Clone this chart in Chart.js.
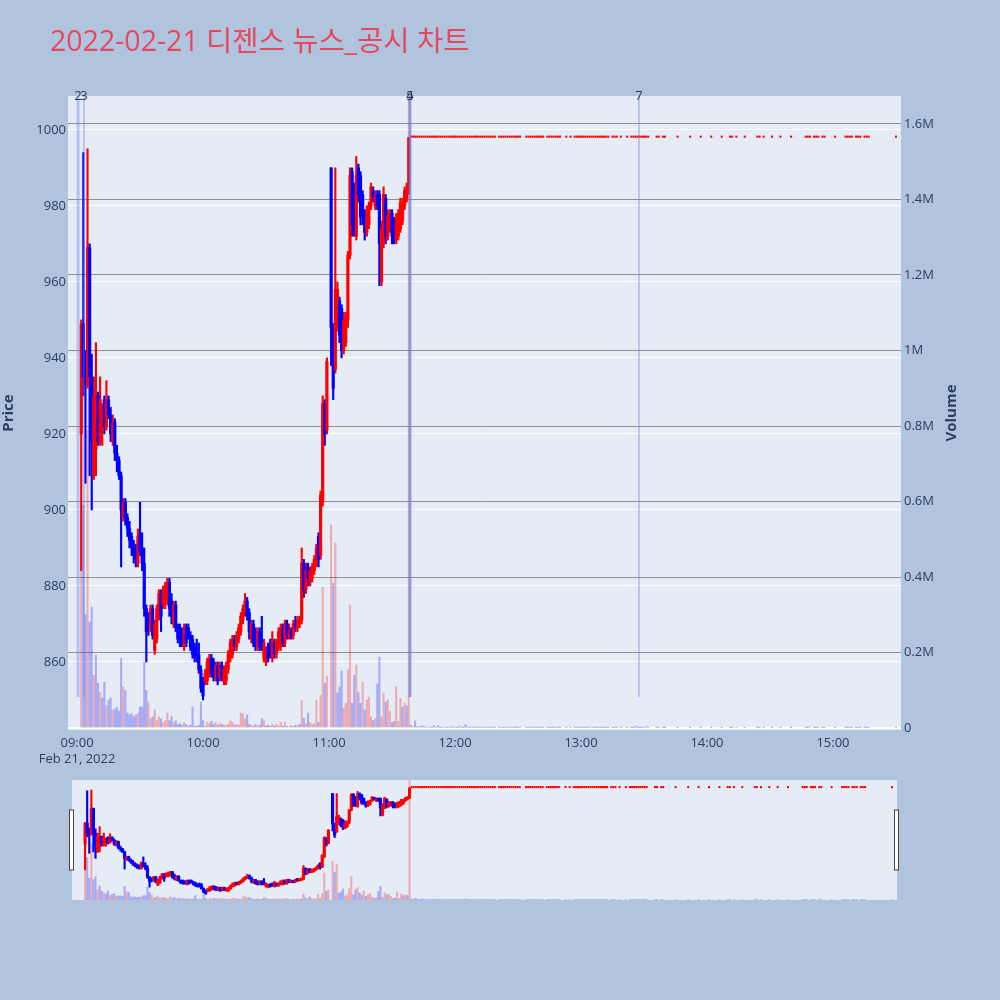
<!DOCTYPE html>
<html><head><meta charset="utf-8">
<script src="https://cdn.jsdelivr.net/npm/chart.js@4.4.0/dist/chart.umd.min.js"></script>
<style>
html,body{margin:0;padding:0;background:#b0c4de;width:1000px;height:1000px;overflow:hidden;}
#title{position:absolute;left:50px;top:20px;font-size:28.5px;line-height:40px;font-family:"Open Sans","Noto Sans CJK KR",sans-serif;color:#e8475f;white-space:nowrap;z-index:2;}
#main{position:absolute;left:0;top:0;width:1000px;height:770px;}
#slider{position:absolute;left:0;top:770px;width:1000px;height:140px;}
</style></head><body>
<div id="title">2022-02-21 디젠스 뉴스_공시 차트</div>
<canvas id="main" width="1000" height="770"></canvas>
<canvas id="slider" width="1000" height="140"></canvas>
<script>
// ---- DATA (minutes after 09:00) ----
const minutes = [2,3,4,5,6,7,8,9,10,11,
12,13,14,15,16,17,18,19,20,21,
22,23,24,25,26,27,28,29,30,31,
32,33,34,35,36,37,38,39,40,41,
42,43,44,45,46,47,48,49,50,51,
52,53,54,55,56,57,58,59,60,61,
62,63,64,65,66,67,68,69,70,71,
72,73,74,75,76,77,78,79,80,81,
82,83,84,85,86,87,88,89,90,91,
92,93,94,95,96,97,98,99,100,101,
102,103,104,105,106,107,108,109,110,111,
112,113,114,115,116,117,118,119,121,122,
123,124,125,126,127,128,129,130,131,132,
133,134,135,136,137,138,139,140,141,142,
143,144,145,146,147,148,149,150,151,152,
153,154,155,156,157,158];
const opens = [920,949,935,933,969,935,909,916,930,918,
921,929,922,929,925,918,923,915,913,909,
898,902,898,895,893,890,890,886,893,890,
886,874,872,869,874,863,866,872,878,875,
876,877,881,876,870,875,869,869,868,864,
869,869,867,866,864,862,862,858,855,855,
855,857,861,860,856,859,856,859,855,855,
858,861,862,866,864,866,868,871,873,876,
873,866,870,868,864,868,866,861,860,864,
864,861,865,862,864,864,869,865,870,867,
868,867,870,869,870,871,886,879,885,881,
882,884,886,893,888,902,928,921,990,948,
937,948,955,953,942,944,950,967,989,985,
972,990,988,983,978,973,975,980,984,980,
983,983,960,970,982,972,974,978,976,971,
972,974,976,980,982,984];
const highs = [950,994,942,995,970,941,935,944,931,935,
928,930,934,930,927,925,924,917,914,910,
903,903,899,897,894,892,891,895,902,894,
890,875,873,875,875,871,875,879,879,880,
881,882,882,878,876,876,870,870,869,870,
870,870,868,867,865,866,865,859,856,858,
861,862,862,861,860,860,860,860,859,860,
863,866,867,867,868,870,873,875,878,877,
874,871,871,869,869,869,872,866,864,865,
866,868,866,866,869,870,870,871,871,870,
869,871,872,872,872,890,887,886,886,885,
886,888,891,894,905,930,929,940,990,949,
990,960,956,954,952,952,968,990,990,986,
993,991,989,984,979,980,981,986,985,984,
984,984,976,985,983,979,979,979,977,978,
979,982,982,985,986,998];
const lows = [884,930,907,932,909,900,908,909,917,917,
917,920,921,924,918,917,913,910,908,885,
897,896,893,890,888,886,885,885,888,884,
872,860,867,868,866,862,865,871,868,874,
874,875,872,870,869,868,865,864,864,863,
864,866,863,861,860,860,857,852,850,854,
854,856,856,855,855,854,855,855,854,854,
857,860,861,863,863,865,867,870,872,871,
866,865,864,863,863,863,863,860,859,860,
861,860,861,861,863,863,864,864,866,866,
866,866,868,868,869,870,877,878,880,880,
881,883,885,885,887,901,917,920,938,929,
936,947,944,940,941,943,948,966,972,972,
971,981,975,975,971,972,974,979,981,979,
979,959,959,969,970,971,973,970,970,970,
971,973,975,979,981,983];
const closes = [949,935,933,969,935,918,930,930,918,929,
927,922,929,925,920,923,915,913,909,900,
902,898,895,892,890,888,887,893,889,886,
874,868,869,874,867,870,874,878,872,879,
880,881,874,872,875,869,866,866,865,869,
865,867,864,862,861,861,858,853,851,857,
860,861,857,856,859,855,859,856,858,859,
862,865,866,864,867,869,872,874,876,872,
868,870,865,864,868,864,864,865,862,861,
862,866,862,865,868,869,865,870,867,868,
867,870,869,871,871,886,879,884,882,884,
885,887,890,887,904,928,920,939,948,932,
958,958,946,942,950,951,967,988,975,974,
988,983,977,978,973,979,980,985,982,983,
980,970,974,983,972,977,978,972,971,977,
978,981,980,984,984,998];
const volumes = [560000,590000,300000,790000,281000,320000,140000,193000,119000,95000,
80000,122000,60000,74000,80000,48000,50000,55000,45000,185000,
109000,100000,40000,35000,38000,30000,35000,40000,56000,56000,
175000,100000,69000,25000,30000,48000,20000,30000,25000,15000,
20000,40000,20000,30000,15000,20000,10000,12000,8000,15000,
10000,5000,8000,56000,5000,5000,8000,69000,20000,5000,
15000,12000,18000,10000,15000,8000,12000,10000,8000,6000,
10000,20000,15000,8000,10000,8000,40000,38000,25000,35000,
10000,8000,5000,10000,6000,8000,25000,20000,6000,8000,
5000,10000,6000,10000,5000,15000,5000,16000,5000,3000,
6000,4000,8000,6000,10000,74000,26000,12000,40000,15000,
10000,12000,74000,15000,87000,373000,119000,138000,538000,384000,
490000,93000,109000,151000,53000,66000,154000,326000,66000,140000,
167000,95000,66000,122000,48000,74000,82000,30000,20000,25000,
117000,188000,30000,93000,69000,75000,45000,15000,18000,109000,
18000,79000,56000,66000,60000,2900000];

// after 11:38 the stock stayed at the upper limit price
const limitPrice = 998;
const limitMinutes = [159,160,161,162,163,164,165,166,167,168,
169,170,171,172,173,174,175,176,177,178,
179,180,181,182,183,184,185,186,187,188,
189,190,191,192,193,194,195,196,197,198,199,
201,202,203,204,205,206,207,208,209,210,211,
214,215,216,217,218,219,220,221,222,
224,225,226,227,228,229,230,
233,235,
237,238,239,240,241,242,243,244,245,246,247,248,249,250,251,252,253,
255,256,257,259,262,
264,265,266,267,268,269,270,271,272,
276,277,279,280,286,
292,297,302,307,311,312,314,318,
324,325,327,331,335,340,
347,348,349,351,352,353,355,356,
361,366,367,368,369,371,372,373,375,376,377,
390];
const limitVolumes = [8000,3000,19000,4000,2000,6000,5000,2000,3000,2000,
1000,7000,2000,6000,1000,2000,3000,1000,2000,1000,
4000,2000,1000,5000,2000,1000,9000,2000,1000,3000,
1000,2000,1000,1000,2000,1000,3000,1000,1000,2000,1000,
1000,2000,1000,1000,3000,1000,2000,1000,1000,1000,2000,
1000,1000,2000,1000,1000,1000,1000,2000,1000,
1000,1000,1000,1000,2000,1000,1000,
1000,1000,
1000,1000,2000,1000,1000,1000,1000,1000,3000,1000,1000,1000,2000,1000,1000,1000,1000,
1000,1000,1000,1000,1000,
1000,1000,5000,1000,1000,1000,2000,4000,1000,
1000,1000,1000,1000,1000,
1000,1000,1000,1000,1000,1000,1000,1000,
1000,1000,1000,1000,1000,1000,
1000,1000,3000,1000,1000,1000,1000,1000,
1000,1000,1000,1000,1000,1000,1000,1000,1000,1000,1000,
1000];

const timeTicks = [0,60,120,180,240,300,360];
const timeLabels = ['09:00','10:00','11:00','12:00','13:00','14:00','15:00'];
const dateLabel = 'Feb 21, 2022';
const priceTicks = [860,880,900,920,940,960,980,1000];
const volumeTicks = [0,200000,400000,600000,800000,1000000,1200000,1400000,1600000];
const volumeTickLabels = ['0','0.2M','0.4M','0.6M','0.8M','1M','1.2M','1.4M','1.6M'];

// disclosure markers (minutes after 09:00) and their labels
const markerMinutes = [0.5,3.3,158.6,158.6,267.6];
const markerLabels = ['2','3','4','5','7'];

// ---- STYLE ----
const FONT = '"Open Sans","Noto Sans CJK KR",sans-serif';
const TICK = '#2a3f5f';
const PLOT_BG = '#e5ecf6';
const RED = '#ff0000', BLUE = '#0000ff';
const VOL_RED = 'rgba(255,0,0,0.28)', VOL_BLUE = 'rgba(0,0,255,0.28)';
const X_MIN = -4.3, X_MAX = 392.4;
const P_MIN = 842.1, P_MAX = 1008.9;
const V_MIN = -5000, V_MAX = 1674000;

// ---- combine series ----
const allMin = minutes.concat(limitMinutes);
const allC = closes.concat(limitMinutes.map(() => limitPrice));
const allV = volumes.concat(limitVolumes);

const candleColors = minutes.map((m, i) => closes[i] < opens[i] ? BLUE : RED);
const volColors = allMin.map((m, i) => {
  const ref = i === 0 ? opens[0] : allC[i - 1];
  return allC[i] > ref ? VOL_RED : VOL_BLUE;
});

function makeDatasets() {
  return [
    { label: 'body', yAxisID: 'y', order: 1, grouped: false,
      data: minutes.map((m, i) => ({ x: m, y: [Math.min(opens[i], closes[i]), Math.max(opens[i], closes[i])] })),
      backgroundColor: candleColors, barThickness: 2.5, minBarLength: 1.8 },
    { label: 'wick', yAxisID: 'y', order: 2, grouped: false,
      data: minutes.map((m, i) => ({ x: m, y: [lows[i], highs[i]] })),
      backgroundColor: candleColors, barThickness: 1.5, minBarLength: 1 },
    { label: 'limit', yAxisID: 'y', order: 1, grouped: false,
      data: limitMinutes.map(m => ({ x: m, y: [limitPrice, limitPrice] })),
      backgroundColor: RED, barThickness: 1.3, minBarLength: 1.5 },
    { label: 'volume', yAxisID: 'y1', order: 3, grouped: false,
      data: allMin.map((m, i) => ({ x: m, y: allV[i] })),
      backgroundColor: volColors, barThickness: 1.4 }
  ];
}

const bgPlugin = { id: 'plotbg', beforeDraw(chart) {
  const { ctx, chartArea: a } = chart;
  ctx.save(); ctx.fillStyle = PLOT_BG;
  ctx.fillRect(a.left, a.top, a.right - a.left, a.bottom - a.top);
  ctx.restore();
}};

const markerStyle = {
  '2': { w: 3, c: 'rgba(110,145,240,0.45)' },
  '3': { w: 1, c: 'rgba(90,120,235,0.7)' },
  '4': { w: 2.5, c: 'rgba(100,130,235,0.5)' },
  '5': { w: 2.5, c: 'rgba(100,130,235,0.5)' },
  '7': { w: 1, c: 'rgba(100,125,225,0.7)' }
};
const markerPlugin = { id: 'markers', afterDatasetsDraw(chart) {
  const { ctx, chartArea: a } = chart;
  const xs = chart.scales.x, ys = chart.scales.y;
  const bottom = ys.getPixelForValue(850.8);
  ctx.save();
  markerMinutes.forEach((m, i) => {
    const px = xs.getPixelForValue(m);
    const st = markerStyle[markerLabels[i]];
    ctx.strokeStyle = st.c; ctx.lineWidth = st.w;
    ctx.beginPath(); ctx.moveTo(px, bottom); ctx.lineTo(px, a.top); ctx.stroke();
  });
  ctx.fillStyle = TICK; ctx.font = '13px ' + FONT;
  ctx.textAlign = 'center'; ctx.textBaseline = 'middle';
  markerMinutes.forEach((m, i) => {
    ctx.fillText(markerLabels[i], xs.getPixelForValue(m), a.top);
  });
  ctx.restore();
}};

const titlePlugin = { id: 'axisTitles', afterDraw(chart) {
  const { ctx, chartArea: a } = chart;
  const cy = (a.top + a.bottom) / 2;
  ctx.save();
  ctx.fillStyle = TICK; ctx.font = 'bold 15px ' + FONT;
  ctx.textAlign = 'center'; ctx.textBaseline = 'middle';
  [['Price', 9], ['Volume', 952]].forEach(([t, x]) => {
    ctx.save(); ctx.translate(x, cy); ctx.rotate(-Math.PI / 2); ctx.fillText(t, 0, 0); ctx.restore();
  });
  ctx.restore();
}};

new Chart(document.getElementById('main'), {
  type: 'bar',
  data: { datasets: makeDatasets() },
  options: {
    responsive: false, animation: false, events: [],
    layout: { padding: { top: 96, left: 0, right: 0, bottom: 0 } },
    plugins: { legend: { display: false }, tooltip: { enabled: false } },
    scales: {
      x: { type: 'linear', min: X_MIN, max: X_MAX, offset: false,
        grid: { display: false }, border: { display: false },
        afterBuildTicks: s => { s.ticks = timeTicks.map(v => ({ value: v })); },
        afterFit: s => { s.height = 40; },
        ticks: { autoSkip: false, maxRotation: 0, padding: -3, color: TICK,
          font: { family: FONT, size: 13, lineHeight: 1.25 },
          callback: (v, i) => i === 0 ? [timeLabels[0], dateLabel] : timeLabels[i] } },
      y: { type: 'linear', position: 'left', min: P_MIN, max: P_MAX,
        grid: { color: '#ffffff', lineWidth: 1, drawTicks: false }, border: { display: false },
        afterBuildTicks: s => { s.ticks = priceTicks.map(v => ({ value: v })); },
        afterFit: s => { s.width = 68; },
        ticks: { padding: 2, color: TICK, font: { family: FONT, size: 13 }, callback: v => String(v) } },
      y1: { type: 'linear', position: 'right', min: V_MIN, max: V_MAX,
        grid: { color: c => (c.tick && c.tick.value === 0) ? '#ffffff' : '#8f8f8f',
                lineWidth: c => (c.tick && c.tick.value === 0) ? 2 : 1, drawTicks: false },
        border: { display: false },
        afterBuildTicks: s => { s.ticks = volumeTicks.map(v => ({ value: v })); },
        afterFit: s => { s.width = 99; },
        ticks: { padding: 3, color: TICK, font: { family: FONT, size: 13 },
          callback: (v, i) => volumeTickLabels[i] } }
    }
  },
  plugins: [bgPlugin, markerPlugin, titlePlugin]
});

const handlePlugin = { id: 'handles', afterDraw(chart) {
  const { ctx, chartArea: a } = chart;
  const mid = (a.top + a.bottom) / 2;
  ctx.save();
  ctx.fillStyle = '#ffffff'; ctx.strokeStyle = '#444444'; ctx.lineWidth = 1;
  [a.left, a.right].forEach(x => {
    ctx.fillRect(x - 2.5, mid - 30, 4, 60);
    ctx.strokeRect(x - 2.5, mid - 30, 4, 60);
  });
  ctx.restore();
}};

new Chart(document.getElementById('slider'), {
  type: 'bar',
  data: { datasets: makeDatasets() },
  options: {
    responsive: false, animation: false, events: [],
    layout: { padding: { top: 10, left: 72, right: 103, bottom: 10 } },
    plugins: { legend: { display: false }, tooltip: { enabled: false } },
    scales: {
      x: { type: 'linear', min: X_MIN, max: X_MAX, offset: false, display: false },
      y: { type: 'linear', min: P_MIN, max: P_MAX, display: false },
      y1: { type: 'linear', min: V_MIN, max: V_MAX, display: false }
    }
  },
  plugins: [bgPlugin, handlePlugin]
});
</script>
</body></html>
